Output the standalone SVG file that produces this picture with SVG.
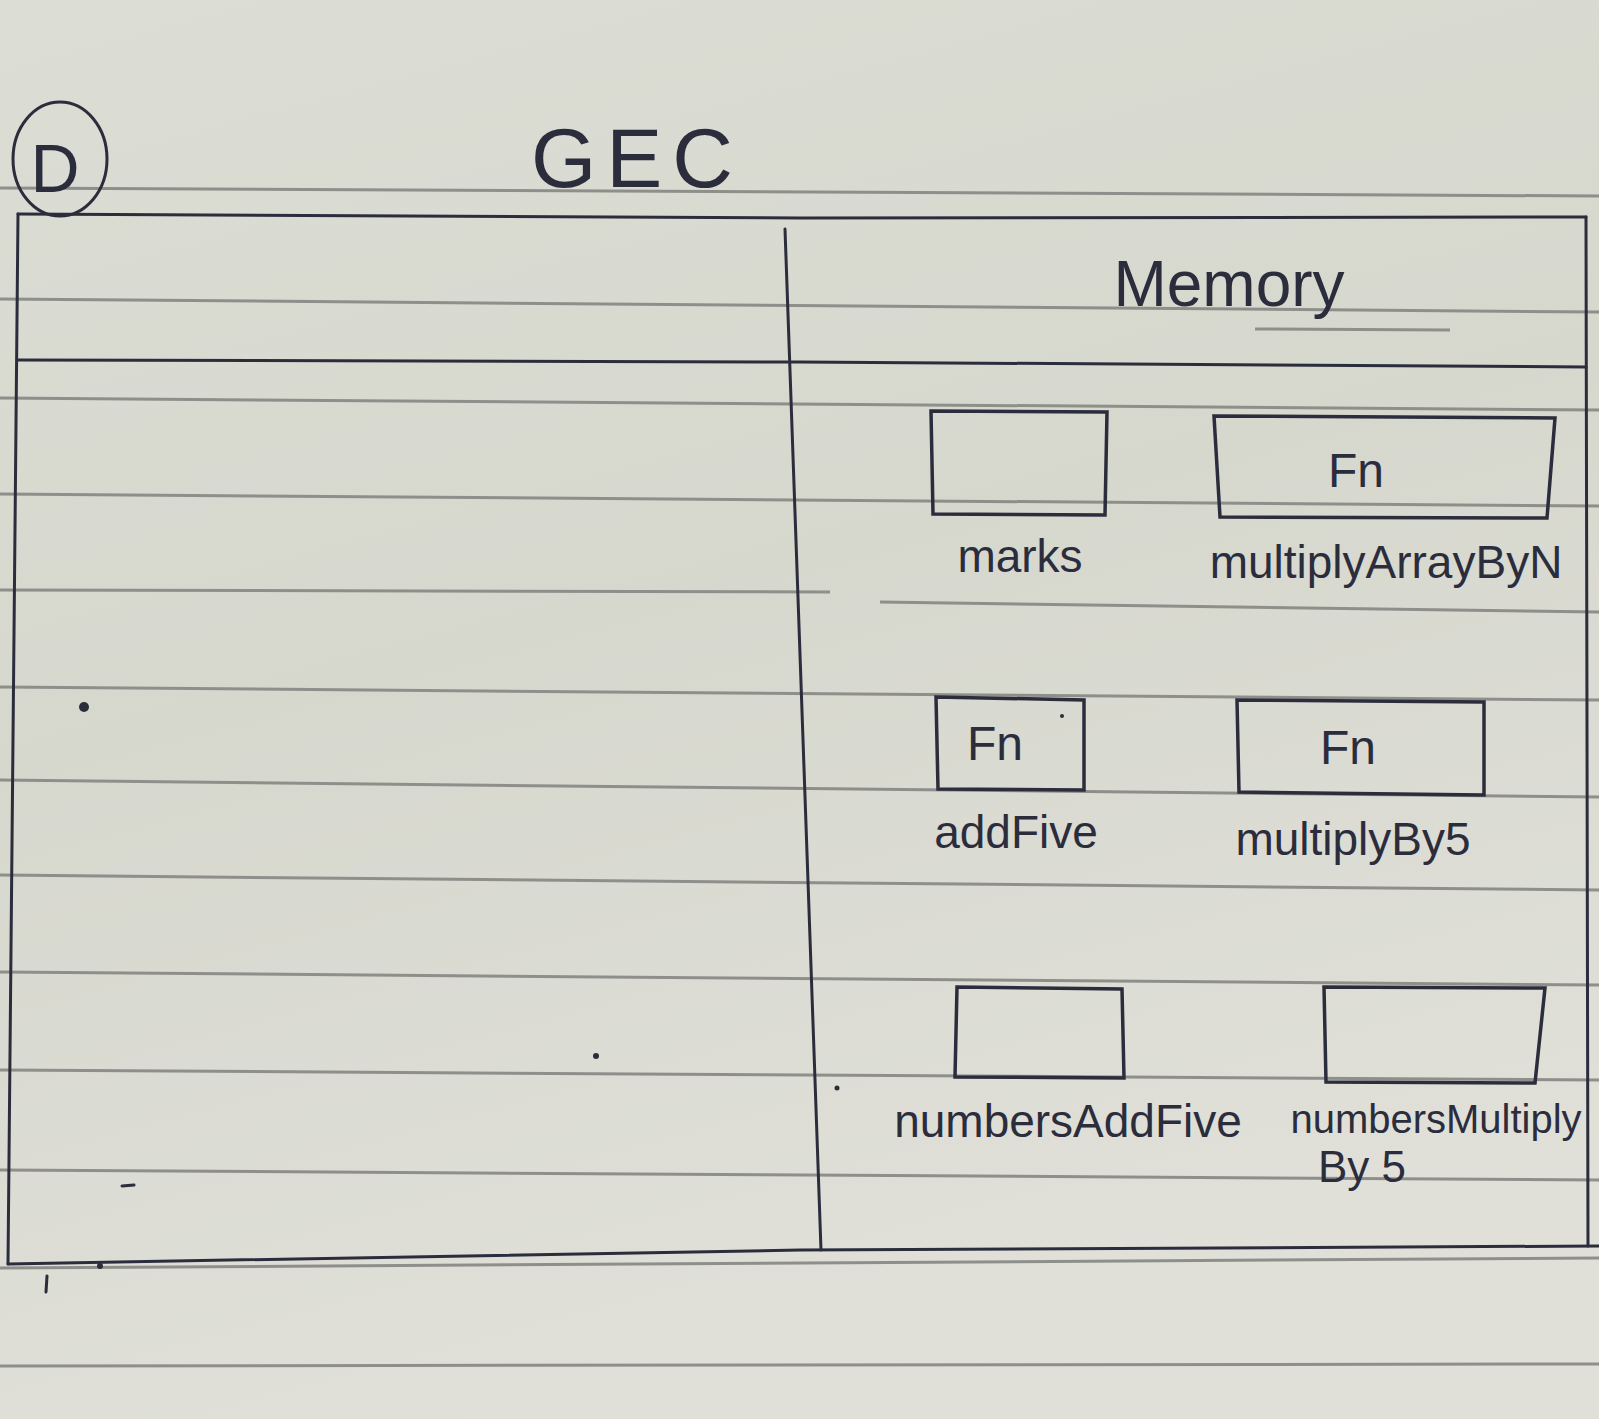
<svg xmlns="http://www.w3.org/2000/svg" width="1599" height="1419" viewBox="0 0 1599 1419">
<defs>
<linearGradient id="paper" x1="0" y1="0" x2="0.3" y2="1">
<stop offset="0" stop-color="#dcddd4"/>
<stop offset="0.5" stop-color="#d6d7cd"/>
<stop offset="1" stop-color="#e0e0d9"/>
</linearGradient>
<style>
.rule{stroke:#8e8f8b;stroke-width:3;fill:none}
.pen{stroke:#2b2d3c;stroke-width:3;fill:none;stroke-linecap:round}
.box{stroke:#2b2d3c;stroke-width:3.5;fill:none}
.t{font-family:"Liberation Sans",Arial,sans-serif;fill:#2b2d3c;text-anchor:middle}
.lbl{font-size:46px}
.fn{font-size:48px}
</style>
</defs>
<rect width="1599" height="1419" fill="url(#paper)"/>
<g id="ruled-lines">
<path class="rule" d="M0 188 L1599 196"/>
<path class="rule" d="M0 299 L1599 312"/>
<path class="rule" d="M1255 329 L1450 330"/>
<path class="rule" d="M0 398 L1599 410"/>
<path class="rule" d="M0 494 L1599 506"/>
<path class="rule" d="M0 590 L830 592 M880 602 L1599 612"/>
<path class="rule" d="M0 687 L1599 700"/>
<path class="rule" d="M0 780 L1599 797"/>
<path class="rule" d="M0 875 L1599 890"/>
<path class="rule" d="M0 972 L1599 985"/>
<path class="rule" d="M0 1070 L1599 1080"/>
<path class="rule" d="M0 1170 L1599 1180"/>
<path class="rule" d="M0 1268 L1599 1258"/>
<path class="rule" d="M0 1366 L1599 1364"/>
</g>
<g id="frame">
<path class="pen" d="M18 214 L800 218 L1586 217"/>
<path class="pen" d="M18 214 L8 1264"/>
<path class="pen" d="M1586 217 L1588 1246"/>
<path class="pen" d="M8 1264 L800 1250 L1599 1246"/>
<path class="pen" d="M785 229 L821 1250"/>
<path class="pen" d="M18 360 L800 362 L1586 367"/>
</g>
<g id="label-D">
<ellipse cx="60" cy="159" rx="47" ry="57" class="pen"/>
<text class="t" x="55" y="192" font-size="68">D</text>
</g>
<g id="title-GEC">
<text class="t" x="637" y="187" font-size="84" letter-spacing="10">GEC</text>
</g>
<g id="memory-header">
<text class="t" x="1229" y="306" font-size="64">Memory</text>
</g>
<g id="node-marks">
<path class="box" d="M931 411 L1107 412 L1105 515 L933 514 Z"/>
<text class="t lbl" x="1020" y="572">marks</text>
</g>
<g id="node-multiplyArrayByN">
<path class="box" d="M1214 416 L1555 418 L1547 518 L1220 517 Z"/>
<text class="t fn" x="1356" y="487">Fn</text>
<text class="t lbl" x="1386" y="578">multiplyArrayByN</text>
</g>
<g id="node-addFive">
<path class="box" d="M936 697 L1084 700 L1084 790 L938 789 Z"/>
<text class="t fn" x="995" y="760">Fn</text>
<text class="t lbl" x="1016" y="848">addFive</text>
</g>
<g id="node-multiplyBy5">
<path class="box" d="M1237 700 L1484 702 L1484 795 L1239 792 Z"/>
<text class="t fn" x="1348" y="764">Fn</text>
<text class="t lbl" x="1353" y="855">multiplyBy5</text>
</g>
<g id="node-numbersAddFive">
<path class="box" d="M957 987 L1122 989 L1124 1078 L955 1077 Z"/>
<text class="t lbl" x="1068" y="1137">numbersAddFive</text>
</g>
<g id="node-numbersMultiplyBy5">
<path class="box" d="M1324 987 L1545 988 L1535 1083 L1326 1082 Z"/>
<text class="t" x="1436" y="1133" font-size="40">numbersMultiply</text>
<text class="t" x="1362" y="1182" font-size="44">By 5</text>
</g>
<g id="connectors"></g>
<g id="marks-stray" fill="#2b2d3c">
<circle cx="84" cy="707" r="5"/>
<circle cx="596" cy="1056" r="3"/>
<circle cx="837" cy="1088" r="2.5"/>
<path class="pen" d="M122 1186 L134 1185"/>
<path class="pen" d="M47 1276 L46 1292"/>
<circle cx="100" cy="1266" r="3"/>
<circle cx="1062" cy="716" r="2"/>
</g>
</svg>
